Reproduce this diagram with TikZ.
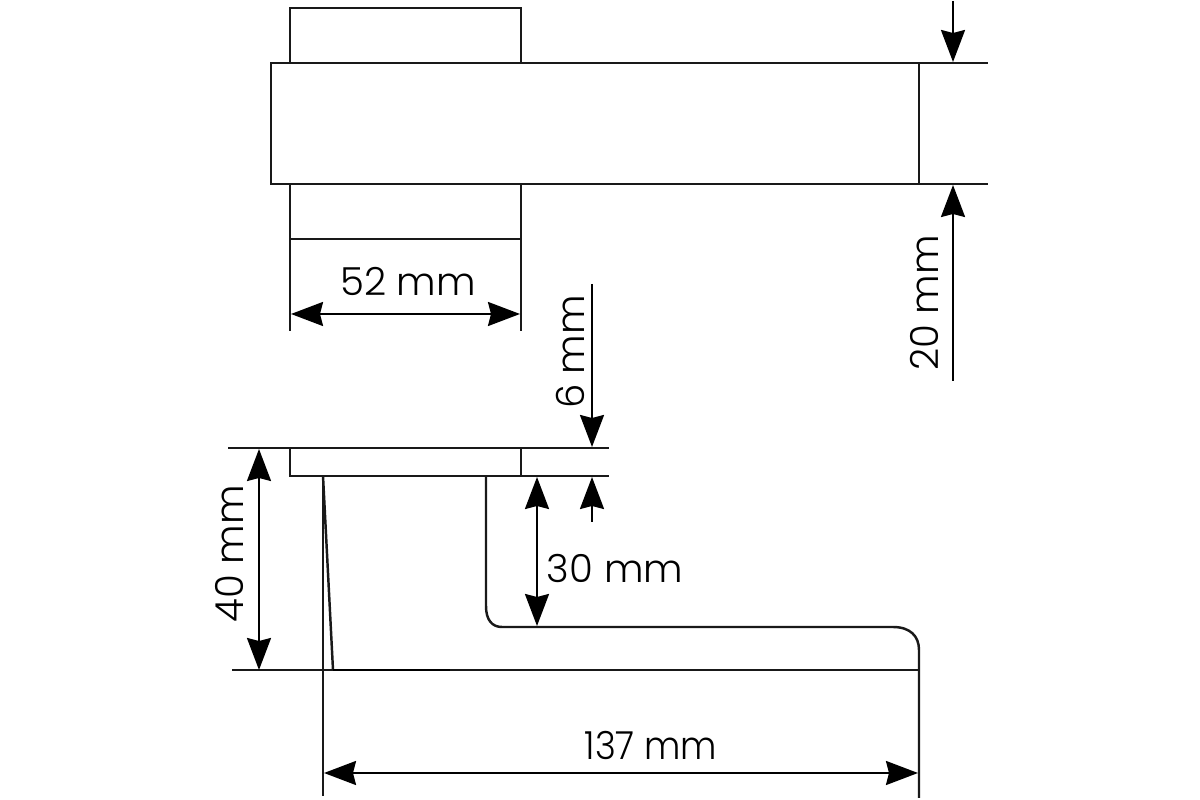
\documentclass[tikz,border=0pt]{standalone}
\usepackage{fontspec}
\setmainfont{Poppins Light}[BoldFont={Poppins}]
\usetikzlibrary{arrows.meta}
\tikzset{
  part/.style={line width=.7pt, black!90},
  dim/.style={line width=.65pt, {Stealth[length=3.2mm,width=2.4mm,inset=.3mm]}-{Stealth[length=3.2mm,width=2.4mm,inset=.3mm]}},
  lead/.style={line width=.65pt, -{Stealth[length=3.2mm,width=2.4mm,inset=.3mm]}},
  size/.style={font=\fontsize{11}{12}\selectfont, inner sep=0pt}
}
\begin{document}
\begin{tikzpicture}[x=.1mm,y=-.1mm]
\useasboundingbox (0,0) rectangle (1200,800);
% top view
\coordinate (tl) at (271,63);
\coordinate (tr) at (919,184);
\coordinate (ca) at (290,8);
\coordinate (cb) at (521,63);
\coordinate (cc) at (290,184);
\coordinate (cd) at (521,239);
\coordinate (ea) at (988,63);
\coordinate (eb) at (988,184);
\coordinate (ec) at (919,63);
\coordinate (ed) at (919,184);
\draw[part] (tl) rectangle (tr);
\draw[part] (ca |- tl) -- (ca) -- (ca -| cb) -- (cb);
\draw[part] (cc) -- (cc |- cd) -- (cd) -- (cd |- cc);
\draw[part] (cc |- cd) -- (290,331);
\draw[part] (cd) -- (521,331);
\draw[part] (ec) -- (ea);
\draw[part] (ed) -- (eb);
\coordinate (wa) at (291,314);
\coordinate (wb) at (520,314);
\draw[dim] (wa) -- (wb);
\node[size] (w52) at (408,281) {52 mm};
\coordinate (ha) at (953,1);
\coordinate (hb) at (953,62);
\coordinate (hc) at (953,381);
\coordinate (hd) at (953,185);
\draw[lead] (ha) -- (hb);
\draw[lead] (hc) -- (hd);
\node[size, rotate=90] (h20) at (924,303) {20 mm};
% side view
\coordinate (pa) at (290,448);
\coordinate (pb) at (521,476);
\coordinate (la) at (228,448);
\coordinate (lb) at (609,448);
\coordinate (lc) at (609,476);
\coordinate (ba) at (232,670);
\coordinate (bb) at (919,670);
\coordinate (sa) at (323,476);
\coordinate (sb) at (333,670);
\coordinate (sc) at (450,670);
\coordinate (sd) at (323,796);
\coordinate (ga) at (486,476);
\coordinate (gb) at (919,798);
\draw[part] (pa) rectangle (pb);
\draw[part] (la) -- (lb);
\draw[part] (pb) -- (lc);
\draw[part] (ba) -- (bb);
\draw[part] (sa) -- (sd);
\draw[part] (sa) -- (sb);
\draw[line width=.75pt] (sb) -- (sc);
\draw[part] (ga) -- (486,606) .. controls (486,620) and (492,627) .. (502,627) -- (893,627) .. controls (910,627) and (919,636) .. (919,650) -- (gb);
\coordinate (ta) at (592,284);
\coordinate (tb) at (592,447);
\coordinate (tc) at (592,522);
\coordinate (td) at (592,477);
\draw[lead] (ta) -- (tb);
\draw[lead] (tc) -- (td);
\node[size, rotate=90] (t6) at (570,352) {6 mm};
\coordinate (ua) at (259,449);
\coordinate (ub) at (259,670);
\draw[dim] (ua) -- (ub);
\node[size, rotate=90] (u40) at (229,554) {40 mm};
\coordinate (va) at (537,477);
\coordinate (vb) at (537,626);
\draw[dim] (va) -- (vb);
\node[size] (v30) at (615,568) {30 mm};
\coordinate (xa) at (324,773);
\coordinate (xb) at (918,773);
\draw[dim] (xa) -- (xb);
\node[size, xscale=.92] (x137) at (651,745) {137 mm};
\end{tikzpicture}
\end{document}
